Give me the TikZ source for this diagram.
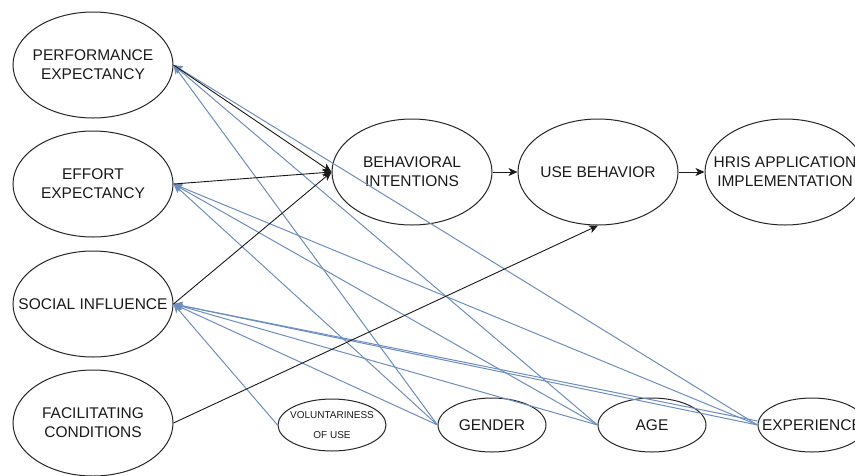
\documentclass[tikz,border=0pt]{standalone}
\usepackage{fontspec}
\setmainfont{Liberation Sans}
\usetikzlibrary{arrows.meta,calc,shapes.geometric}
\definecolor{edgeblue}{HTML}{6C8EBF}
\begin{document}
\begin{tikzpicture}[x=1pt,y=-1pt,
  bigell/.style={ellipse,draw=black!85,line width=1pt,minimum width=160pt,minimum height=106pt,inner sep=0pt},
  smallell/.style={ellipse,draw=black!85,line width=1pt,minimum width=108pt,minimum height=54pt,inner sep=0pt},
  lbl/.style={align=center,font=\fontsize{15.5}{19}\selectfont,inner sep=0pt,text=black!90},
  smalllbl/.style={align=center,font=\fontsize{10}{20}\selectfont,inner sep=0pt,text=black!90},
  blk/.style={draw=black!90,line width=0.9pt,-{Stealth[length=9pt,width=8pt,inset=2.5pt]}},
  blu/.style={draw=edgeblue,line width=1pt,-{Stealth[length=9pt,width=8pt,inset=2.5pt]}}]
\useasboundingbox (0,0) rectangle (855,475);
\clip (0,0) rectangle (855,475);

% nodes
\node[bigell] (pe) at (93,65) {};
\node[bigell] (ee) at (93,184) {};
\node[bigell] (si) at (93,304) {};
\node[bigell] (fc) at (93,423) {};
\node[bigell] (bi) at (412,172) {};
\node[bigell] (ub) at (598,172) {};
\node[bigell] (hr) at (785,172) {};
\node[smallell,minimum height=52pt] (vol) at (332,425) {};
\node[smallell] (gen) at (492,425) {};
\node[smallell] (age) at (652,425) {};
\node[smallell] (exp) at (812,425) {};

% labels
\node[lbl] (tpe) at (pe) {PERFORMANCE\\EXPECTANCY};
\node[lbl] (tee) at (ee) {EFFORT\\EXPECTANCY};
\node[lbl] (tsi) at (si) {SOCIAL INFLUENCE};
\node[lbl] (tfc) at (fc) {FACILITATING\\CONDITIONS};
\node[lbl] (tbi) at (bi) {BEHAVIORAL\\INTENTIONS};
\node[lbl] (tub) at (ub) {USE BEHAVIOR};
\node[lbl] (thr) at (hr) {HRIS APPLICATION\\IMPLEMENTATION};
\node[smalllbl] (tvol) at (vol) {VOLUNTARINESS\\OF USE};
\node[lbl] (tgen) at (gen) {GENDER};
\node[lbl] (tage) at (age) {AGE};
\node[lbl] (texp) at (exp) {EXPERIENCE};

% blue moderator edges
\draw[blu] (gen.west) -- (pe.east);
\draw[blu] (age.west) -- (pe.east);
\draw[blu] (exp.west) -- (pe.east);
\draw[blu] (gen.west) -- (ee.east);
\draw[blu] (age.west) -- (ee.east);
\draw[blu] (exp.west) -- (ee.east);
\draw[blu] (vol.west) -- (si.east);
\draw[blu] (gen.west) -- (si.east);
\draw[blu] (age.west) -- (si.east);
\draw[blu] (exp.west) -- (si.east);
\coordinate (expb) at ($(exp.west)+(0,-4)$);
\draw[blu] (expb) -- (si.east);

% black main edges
\draw[blk] (pe.east) -- (bi.west);
\draw[blk] (ee.east) -- (bi.west);
\draw[blk] (si.east) -- (bi.west);
\draw[blk] (fc.east) -- (ub.south);
\draw[blk] (bi.east) -- (ub.west);
\draw[blk] (ub.east) -- (hr.west);
\end{tikzpicture}
\end{document}
